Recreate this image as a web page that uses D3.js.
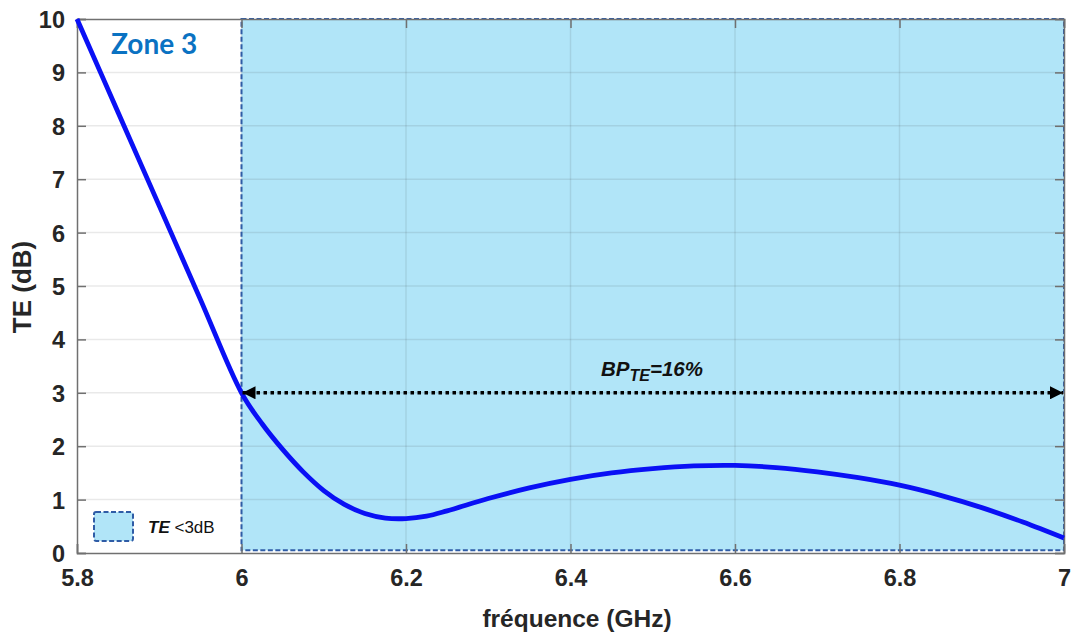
<!DOCTYPE html>
<html><head><meta charset="utf-8">
<script src="https://cdn.jsdelivr.net/npm/d3@7"></script>
<style>body{margin:0;background:#fff;} svg{display:block;}</style>
</head><body>
<svg id="chart" width="1074" height="637"></svg>
<script>
const freq = [5.8,5.85,5.9,5.95,6.0,6.025,6.05,6.075,6.1,6.125,6.15,6.175,6.2,6.225,6.25,6.3,6.35,6.4,6.45,6.5,6.55,6.6,6.65,6.7,6.75,6.8,6.85,6.9,6.95,7.0];
const te   = [10,8.25,6.5,4.75,3.0,2.42,1.94,1.52,1.17,0.91,0.74,0.655,0.645,0.69,0.79,1.02,1.22,1.38,1.5,1.58,1.63,1.64,1.6,1.52,1.41,1.27,1.08,0.85,0.58,0.28];
const xTicks = [5.8,6,6.2,6.4,6.6,6.8,7];
const yTicks = [0,1,2,3,4,5,6,7,8,9,10];
const zoneX = [6,7];
const zoneY = [0.05,10];
const bandY = 3;

const svg = d3.select("#chart");
const m = {l:77, t:19, r:10, b:84};
const W = 1074, H = 637;
const x = d3.scaleLinear().domain([5.8,7]).range([m.l, W-m.r]);
const y = d3.scaleLinear().domain([0,10]).range([H-m.b, m.t]);
const font = "'Liberation Sans', Arial, sans-serif";

// zone rect
svg.append("rect")
  .attr("x", x(zoneX[0])).attr("y", y(zoneY[1]))
  .attr("width", x(zoneX[1]) - x(zoneX[0]))
  .attr("height", y(zoneY[0]) - y(zoneY[1]))
  .attr("fill", "#b1e5f8");

// grid
const g = svg.append("g");
g.selectAll(".hg").data(yTicks.slice(1,-1)).enter().append("line")
  .attr("x1", m.l).attr("x2", W-m.r).attr("y1", d=>y(d)).attr("y2", d=>y(d))
  .attr("stroke", "rgba(38,38,38,0.10)").attr("stroke-width", 1.5);
g.selectAll(".vg").data(xTicks.slice(1,-1)).enter().append("line")
  .attr("y1", m.t).attr("y2", H-m.b).attr("x1", d=>x(d)).attr("x2", d=>x(d))
  .attr("stroke", "rgba(38,38,38,0.10)").attr("stroke-width", 1.5);

// zone border
svg.append("rect")
  .attr("x", x(zoneX[0])).attr("y", y(zoneY[1]))
  .attr("width", x(zoneX[1]) - x(zoneX[0]))
  .attr("height", y(zoneY[0]) - y(zoneY[1]))
  .attr("fill", "none").attr("stroke", "#2f5ca6").attr("stroke-width", 2)
  .attr("stroke-dasharray", "5,2.5");

// axes (box)
const axisCol = "#707070";
const xa = d3.axisBottom(x).tickValues(xTicks).tickSize(-9).tickFormat(d3.format("~g"));
const ya = d3.axisLeft(y).tickValues(yTicks).tickSize(-9).tickFormat(d3.format("~g"));
const gx = svg.append("g").attr("transform", `translate(0,${H-m.b})`).call(xa);
const gy = svg.append("g").attr("transform", `translate(${m.l},0)`).call(ya);
svg.append("g").attr("transform", `translate(0,${m.t})`).call(d3.axisTop(x).tickValues(xTicks).tickSize(-9).tickFormat(""));
svg.append("g").attr("transform", `translate(${W-m.r},0)`).call(d3.axisRight(y).tickValues(yTicks).tickSize(-9).tickFormat(""));
svg.selectAll(".domain").attr("stroke", axisCol).attr("stroke-width", 1.5);
svg.selectAll(".tick line").attr("stroke", axisCol).attr("stroke-width", 1.5);
gx.selectAll(".tick text").attr("font-family", font).attr("font-size", 23.5).attr("font-weight", "bold")
  .attr("fill", "#262626").attr("dy", "1.05em").attr("y", 8);
gy.selectAll(".tick text").attr("font-family", font).attr("font-size", 23.5).attr("font-weight", "bold")
  .attr("fill", "#262626").attr("x", -12).attr("dy", "0.36em");

// curve
svg.append("path").datum(freq.map((f,i)=>[f,te[i]]))
  .attr("d", d3.line().x(d=>x(d[0])).y(d=>y(d[1])).curve(d3.curveCatmullRom.alpha(0.5)))
  .attr("fill", "none").attr("stroke", "#0a10f5").attr("stroke-width", 4.8)
  .attr("stroke-linejoin", "round");

// arrow
const defs = svg.append("defs");
defs.append("marker").attr("id","ah").attr("viewBox","0 0 10 10").attr("refX",10).attr("refY",5)
  .attr("markerWidth",14).attr("markerHeight",13).attr("markerUnits","userSpaceOnUse").attr("orient","auto-start-reverse")
  .append("path").attr("d","M0,0 L10,5 L0,10 Z").attr("fill","#000");
svg.append("line")
  .attr("x1", x(zoneX[0])+1).attr("x2", x(zoneX[1])-1).attr("y1", y(bandY)).attr("y2", y(bandY))
  .attr("stroke", "#000").attr("stroke-width", 3.5).attr("stroke-dasharray", "3.5,3.5")
  .attr("marker-start","url(#ah)").attr("marker-end","url(#ah)");

// BP label
const bp = svg.append("text").attr("x", 652).attr("y", 376).attr("text-anchor","middle")
  .attr("font-family", font).attr("font-weight","bold").attr("font-style","italic").attr("font-size",20.5).attr("fill","#111");
bp.append("tspan").text("BP");
bp.append("tspan").text("TE").attr("font-size",16).attr("dy",5);
bp.append("tspan").text("=16%").attr("dy",-5);

// Zone 3
svg.append("text").attr("x", 111).attr("y", 54).text("Zone 3")
  .attr("font-family","Lato, 'Open Sans', sans-serif").attr("font-weight","bold").attr("font-size",28).attr("fill","#0a72c2");

// legend
svg.append("rect").attr("x",94).attr("y",512).attr("width",39).attr("height",29).attr("rx",2)
  .attr("fill","#b1e5f8").attr("stroke","#2f5ca6").attr("stroke-width",2).attr("stroke-dasharray","5,2.5");
const lg = svg.append("text").attr("x",148).attr("y",533).attr("font-family",font).attr("font-size",17).attr("fill","#111");
lg.append("tspan").text("TE").attr("font-style","italic").attr("font-weight","bold");
lg.append("tspan").text(" <3dB");

// axis titles
svg.append("text").attr("x", 577).attr("y", 627).attr("text-anchor","middle")
  .attr("font-family",font).attr("font-weight","bold").attr("font-size",24.5).attr("fill","#262626").text("fréquence (GHz)");
svg.append("text").attr("transform","translate(31,287) rotate(-90)").attr("text-anchor","middle")
  .attr("font-family",font).attr("font-weight","bold").attr("font-size",26).attr("fill","#262626").text("TE (dB)");
</script>
</body></html>
